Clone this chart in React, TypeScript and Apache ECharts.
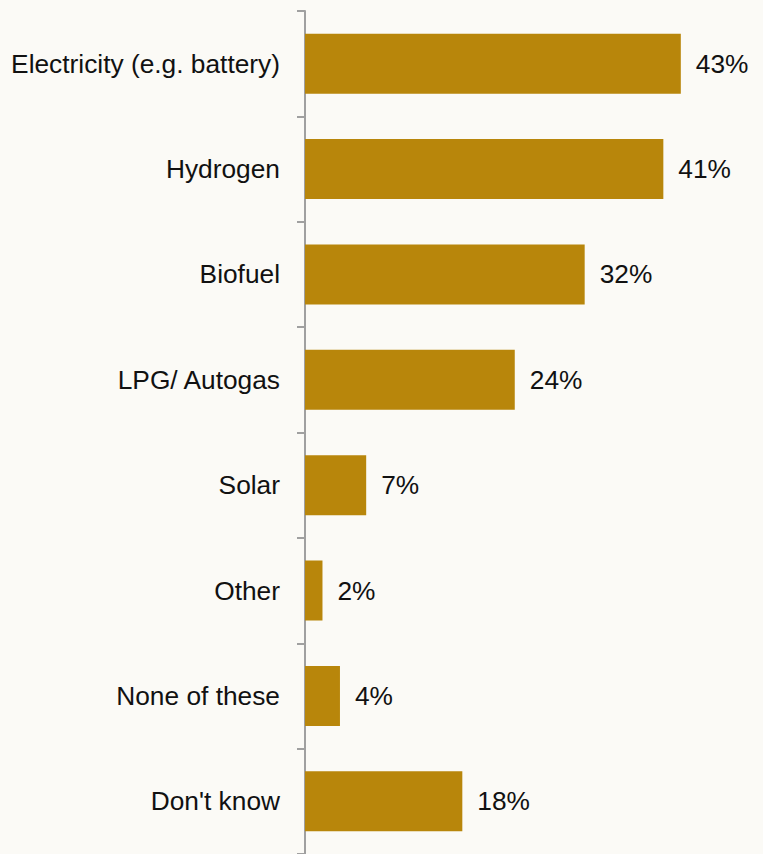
import React, { useEffect, useRef } from "react";
import * as echarts from "echarts";

const categories = [
  "Electricity (e.g. battery)",
  "Hydrogen",
  "Biofuel",
  "LPG/ Autogas",
  "Solar",
  "Other",
  "None of these",
  "Don't know",
];
const values = [43, 41, 32, 24, 7, 2, 4, 18];

const FONT = "'Liberation Sans', Arial, Helvetica, sans-serif";

export default function App() {
  const ref = useRef<HTMLDivElement>(null);
  useEffect(() => {
    if (!ref.current) return;
    const chart = echarts.init(ref.current, null, { renderer: "svg" });
    chart.setOption({
      animation: false,
      backgroundColor: "#fbfaf6",
      grid: { left: 305, top: 11, width: 437, height: 846, containLabel: false },
      xAxis: {
        type: "value",
        min: 0,
        max: 50,
        show: false,
      },
      yAxis: {
        type: "category",
        data: categories,
        inverse: true,
        axisLine: { show: true, lineStyle: { color: "#a0a0a0", width: 2 } },
        axisTick: { show: true, length: 8, lineStyle: { color: "#a0a0a0", width: 2 } },
        axisLabel: { color: "#111", fontSize: 26.3, fontFamily: FONT, margin: 25 },
        splitLine: { show: false },
      },
      series: [
        {
          type: "bar",
          data: values,
          barWidth: 60,
          itemStyle: { color: "#b8860b" },
          label: {
            show: true,
            position: "right",
            distance: 15,
            formatter: "{c}%",
            color: "#111",
            fontSize: 26.3,
            fontFamily: FONT,
          },
        },
      ],
    });
    return () => chart.dispose();
  }, []);
  return (
    <div
      ref={ref}
      style={{ position: "fixed", left: 0, top: 0, width: 763, height: 854 }}
    />
  );
}
